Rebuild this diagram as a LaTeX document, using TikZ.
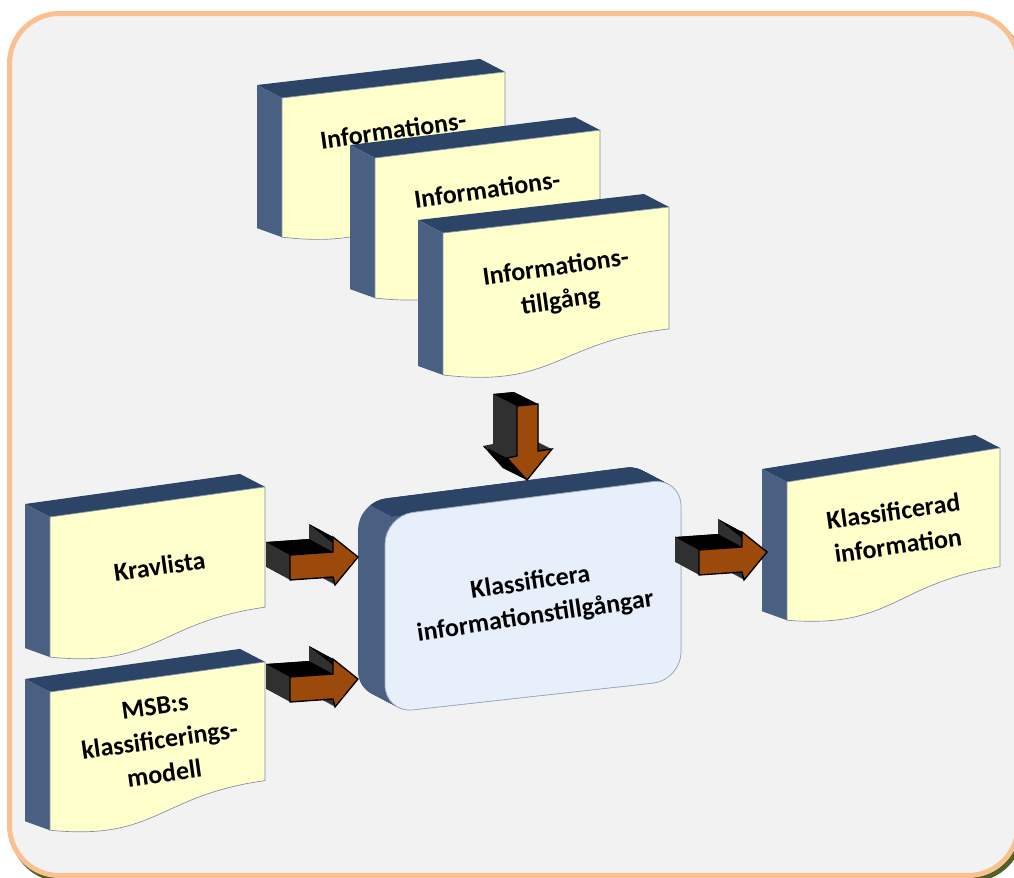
\documentclass[tikz,border=0pt]{standalone}
\usepackage{fontspec}
\setmainfont{Carlito}
\definecolor{bgfill}{HTML}{F2F2F2}
\definecolor{frameC}{HTML}{FAC090}
\definecolor{shadowC}{HTML}{4F6228}
\definecolor{docfront}{HTML}{FFFFCC}
\definecolor{sideL}{HTML}{4A6082}
\definecolor{sideT}{HTML}{2C4567}
\definecolor{boxfront}{HTML}{E6EFFA}
\definecolor{arrowO}{HTML}{9C4A0B}
\definecolor{arrowB}{HTML}{303030}
\tikzset{
  docfrontS/.style={fill=docfront, draw=sideT!60, line width=0.5pt},
  doctxt/.style={font=\bfseries\fontsize{19.5}{25.5}\selectfont, align=center, text=black, inner sep=0pt},
  arrowS/.style={fill=arrowO, draw=black, line width=1pt, line join=miter},
}
% #1 name, #2 X, #3 Y, #4 W, #5 H, #6 slope, #7 text
\newcommand\docshape[7]{%
 \begin{scope}[cm={1,#6,0,1,(#2,#3)}]
   \fill[sideT] (0,0) -- (-25,{-13-25*#6}) -- ({#4-25},{-13-25*#6}) -- (#4,0) -- cycle;
   \fill[sideL] (0,0) -- (-25,{-13-25*#6}) -- (-25,{0.934*#5-9-25*#6}) -- (0,{0.934*#5}) -- cycle;
   \path[docfrontS] (0,0) -- (#4,0) -- (#4,{0.802*#5}) .. controls ({0.5*#4},{0.802*#5}) and ({0.5*#4},{1.107*#5}) .. (0,{0.934*#5}) -- cycle;
   \node[doctxt, rotate=8] (#1) at ({0.51*#4},{0.43*#5}) {#7};
 \end{scope}}
% right block arrow, tip at coordinate #1
\newcommand\rightblock[1]{%
 \begin{scope}[shift={(#1)}]
  \foreach \t in {0,0.025,...,1.01}{\fill[arrowB, shift={(-24*\t,-13*\t)}] (-68,-2) -- (-25,-5) -- (-25,-20) -- (0,0) -- (-23,28) -- (-25,20) -- (-68,23) -- cycle;}
  \fill[black] (-68,-2) -- (-25,-5) -- (-49,-18) -- (-92,-15) -- cycle;
  \fill[black] (-25,-20) -- (0,0) -- (-24,-13) -- (-49,-33) -- cycle;
  \path[arrowS] (-68,-2) -- (-25,-5) -- (-25,-20) -- (0,0) -- (-23,28) -- (-25,20) -- (-68,23) -- cycle;
 \end{scope}}
\newcommand\downblock[1]{%
 \begin{scope}[shift={(#1)}]
  \foreach \t in {0,0.025,...,1.01}{\fill[arrowB, shift={(-24*\t,-12*\t)}] (-10,-74) -- (11,-76) -- (11,-29) -- (25,-31) -- (0,0) -- (-20,-22) -- (-10,-24) -- cycle;}
  \fill[black] (-10,-74) -- (11,-76) -- (-13,-88) -- (-34,-86) -- cycle;
  \fill[black] (-20,-22) -- (0,0) -- (-24,-12) -- (-44,-34) -- cycle;
  \path[arrowS] (-10,-74) -- (11,-76) -- (11,-29) -- (25,-31) -- (0,0) -- (-20,-22) -- (-10,-24) -- cycle;
 \end{scope}}
\begin{document}
\begin{tikzpicture}[x=0.75pt,y=-0.75pt]
\useasboundingbox (0,0) rectangle (1014,878);
\clip (0,0) rectangle (1014,878);
% frame
\draw[shadowC, line width=3.75pt, rounded corners=37.5pt] (12.5,17.5) rectangle (1021,879.5);
\draw[frameC, fill=bgfill, line width=3.75pt, rounded corners=37.5pt] (9.5,13.5) rectangle (1018,875.5);
% stacked documents
\docshape{docA}{282}{98}{223}{149}{0.117}{Informations-\\tillgång}
\docshape{docB}{375}{158}{225}{150}{0.124}{Informations-\\tillgång}
\docshape{docC}{443}{233}{226}{152}{0.115}{Informations-\\tillgång}
% left and right documents
\docshape{krav}{50}{517}{215}{150}{0.14}{Kravlista}
\docshape{msb}{50}{692}{215}{148}{0.14}{MSB:s\\klassificerings-\\modell}
\docshape{klass}{787}{482}{213}{148}{0.16}{Klassificerad\\information}
% central process box
\foreach \t in {0,0.025,...,1.01}{
  \fill[sideL, rounded corners=21pt, shift={(-27*\t,-14*\t)}] (385,516) -- (681,478) -- (681,680) -- (385,713) -- cycle;}
\begin{scope}
  \clip (250,443) -- (392,516) -- (700,478) -- (700,380) -- (250,380) -- cycle;
  \foreach \t in {0,0.025,...,1.01}{
    \fill[sideT, rounded corners=21pt, shift={(-27*\t,-14*\t)}] (385,516) -- (681,478) -- (681,680) -- (385,713) -- cycle;}
\end{scope}
\path[fill=boxfront, draw=sideT!45, line width=0.6pt, rounded corners=21pt] (385,516) -- (681,478) -- (681,680) -- (385,713) -- cycle;
\node[doctxt, rotate=8.5] (proc) at (533,600) {Klassificera\\informationstillgångar};
% block arrows
\coordinate (t1) at (358,557);
\coordinate (t2) at (358,679);
\coordinate (t3) at (767,552);
\coordinate (t4) at (527,480);
\rightblock{t1}
\rightblock{t2}
\rightblock{t3}
\downblock{t4}
\end{tikzpicture}
\end{document}
